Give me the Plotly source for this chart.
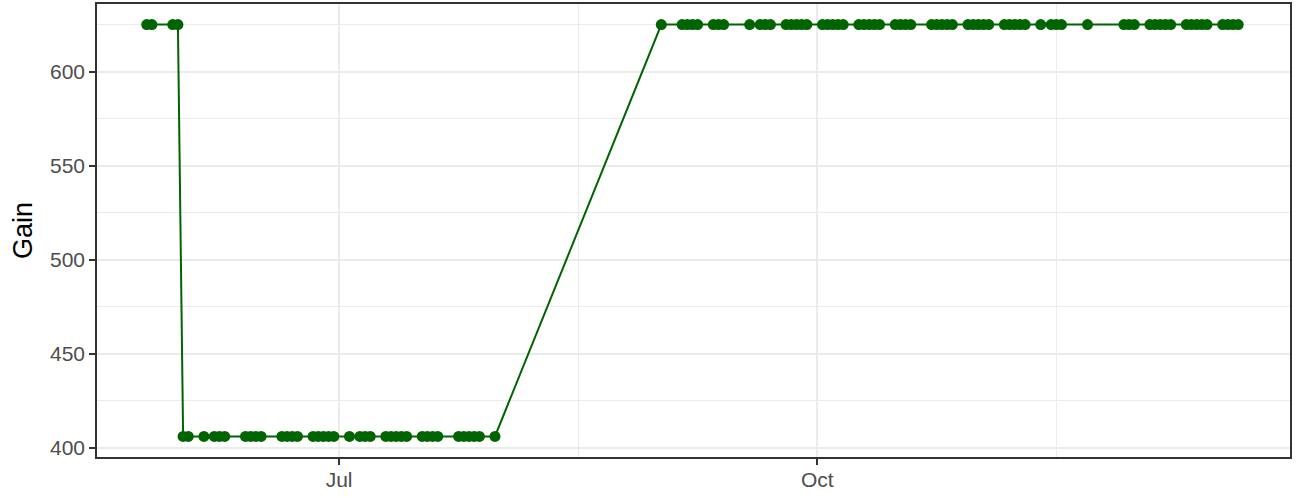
import plotly.graph_objects as go

# ---- data ----
dates_spring = ["2023-05-25", "2023-05-26", "2023-05-30", "2023-05-31"]
gain_spring = [625, 625, 625, 625]

dates_summer = [
    "2023-06-01", "2023-06-02", "2023-06-05", "2023-06-07", "2023-06-08", "2023-06-09",
    "2023-06-13", "2023-06-14", "2023-06-15", "2023-06-16",
    "2023-06-20", "2023-06-21", "2023-06-22", "2023-06-23",
    "2023-06-26", "2023-06-27", "2023-06-28", "2023-06-29", "2023-06-30",
    "2023-07-03", "2023-07-05", "2023-07-06", "2023-07-07",
    "2023-07-10", "2023-07-11", "2023-07-12", "2023-07-13", "2023-07-14",
    "2023-07-17", "2023-07-18", "2023-07-19", "2023-07-20",
    "2023-07-24", "2023-07-25", "2023-07-26", "2023-07-27", "2023-07-28",
    "2023-07-31",
]
gain_summer = [
    406, 406, 406, 406, 406, 406,
    406, 406, 406, 406,
    406, 406, 406, 406,
    406, 406, 406, 406, 406,
    406, 406, 406, 406,
    406, 406, 406, 406, 406,
    406, 406, 406, 406,
    406, 406, 406, 406, 406,
    406,
]

dates_autumn = [
    "2023-09-01", "2023-09-05", "2023-09-06", "2023-09-07", "2023-09-08",
    "2023-09-11", "2023-09-12", "2023-09-13",
    "2023-09-18", "2023-09-20", "2023-09-21", "2023-09-22",
    "2023-09-25", "2023-09-26", "2023-09-27", "2023-09-28", "2023-09-29",
    "2023-10-02", "2023-10-03", "2023-10-04", "2023-10-05", "2023-10-06",
    "2023-10-09", "2023-10-10", "2023-10-11", "2023-10-12", "2023-10-13",
    "2023-10-16", "2023-10-17", "2023-10-18", "2023-10-19",
    "2023-10-23", "2023-10-24", "2023-10-25", "2023-10-26", "2023-10-27",
    "2023-10-30", "2023-10-31", "2023-11-01", "2023-11-02", "2023-11-03",
    "2023-11-06", "2023-11-07", "2023-11-08", "2023-11-09", "2023-11-10",
    "2023-11-13", "2023-11-15", "2023-11-16", "2023-11-17",
    "2023-11-22",
    "2023-11-29", "2023-11-30", "2023-12-01",
    "2023-12-04", "2023-12-05", "2023-12-06", "2023-12-07", "2023-12-08",
    "2023-12-11", "2023-12-12", "2023-12-13", "2023-12-14", "2023-12-15",
    "2023-12-18", "2023-12-19", "2023-12-20", "2023-12-21",
]
gain_autumn = [
    625, 625, 625, 625, 625,
    625, 625, 625,
    625, 625, 625, 625,
    625, 625, 625, 625, 625,
    625, 625, 625, 625, 625,
    625, 625, 625, 625, 625,
    625, 625, 625, 625,
    625, 625, 625, 625, 625,
    625, 625, 625, 625, 625,
    625, 625, 625, 625, 625,
    625, 625, 625, 625,
    625,
    625, 625, 625,
    625, 625, 625, 625, 625,
    625, 625, 625, 625, 625,
    625, 625, 625, 625,
]

x_major_vals = ["2023-07-01", "2023-10-01"]
x_major_text = ["Jul", "Oct"]
x_minor_vals = ["2023-08-16", "2023-11-16"]
y_major_vals = [400, 450, 500, 550, 600]
y_minor_vals = [425, 475, 525, 575, 625]

dates = dates_spring + dates_summer + dates_autumn
gain = gain_spring + gain_summer + gain_autumn

GREEN = "#006400"
GRID = "#EBEBEB"
AXC = "#333333"
FONT = "Liberation Sans, Arial, sans-serif"

fig = go.Figure(
    go.Scatter(
        x=dates, y=gain, mode="lines+markers",
        line=dict(color=GREEN, width=2),
        marker=dict(color=GREEN, size=11),
        showlegend=False,
    )
)

fig.update_layout(
    width=1299, height=498,
    margin=dict(l=97, r=9, t=4, b=41, autoexpand=False),
    plot_bgcolor="white", paper_bgcolor="white",
    font=dict(family=FONT),
)

fig.update_xaxes(
    type="date", automargin=False,
    range=["2023-05-15 10:20", "2023-12-30 23:00"],
    tickmode="array", tickvals=x_major_vals, ticktext=x_major_text,
    showgrid=True, gridcolor=GRID, gridwidth=2,
    minor=dict(tickmode="array", tickvals=x_minor_vals, showgrid=True,
               gridcolor=GRID, gridwidth=1, ticks=""),
    ticks="outside", ticklen=6, tickwidth=1.5, tickcolor=AXC,
    ticklabelstandoff=-3,
    tickfont=dict(size=21, color="#4D4D4D", family=FONT),
    showline=True, linecolor=AXC, linewidth=1.5, mirror=True,
    zeroline=False,
)

fig.update_yaxes(
    automargin=False,
    range=[395.05, 635.95],
    tickmode="array", tickvals=y_major_vals,
    showgrid=True, gridcolor=GRID, gridwidth=2,
    minor=dict(tickmode="array", tickvals=y_minor_vals, showgrid=True,
               gridcolor=GRID, gridwidth=1, ticks=""),
    ticks="outside", ticklen=6, tickwidth=1.5, tickcolor=AXC,
    tickfont=dict(size=21, color="#4D4D4D", family=FONT),
    showline=True, linecolor=AXC, linewidth=1.5, mirror=True,
    zeroline=False,
    title=dict(text="Gain", font=dict(size=27, color="black", family=FONT), standoff=10),
)

fig.write_html(
    "out.html",
    config={"displayModeBar": False},
    post_script="document.body.style.margin='0';document.body.style.padding='0';",
)
